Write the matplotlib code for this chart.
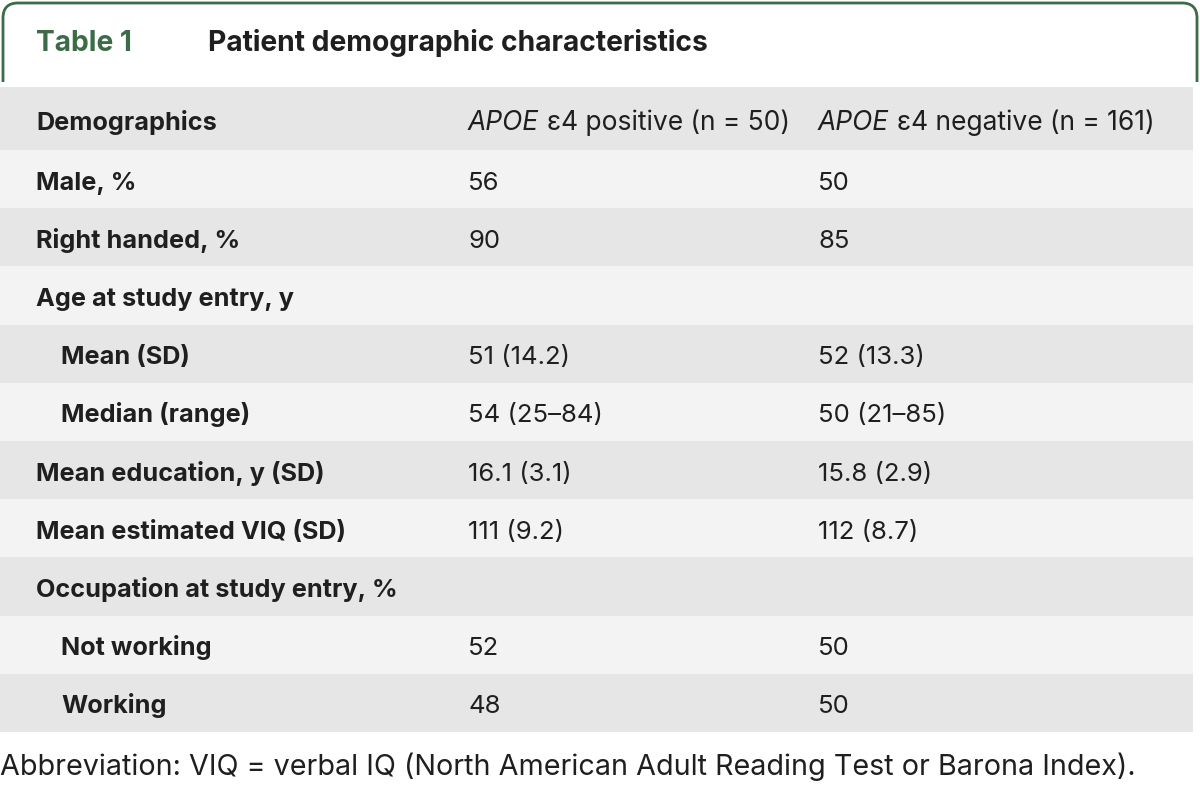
import matplotlib

matplotlib.use("Agg")
import matplotlib.pyplot as plt
from matplotlib.path import Path
from matplotlib.patches import PathPatch

# table content
title_tag = "Table 1"
title_text = "Patient demographic characteristics"
col_headers = ["Demographics", "positive (n = 50)", "negative (n = 161)"]
row_labels = [
    "Male, %",
    "Right handed, %",
    "Age at study entry, y",
    "Mean (SD)",
    "Median (range)",
    "Mean education, y (SD)",
    "Mean estimated VIQ (SD)",
    "Occupation at study entry, %",
    "Not working",
    "Working",
]
row_indent = [0, 0, 0, 1, 1, 0, 0, 0, 1, 1]
apoe_pos = ["56", "90", "", "51 (14.2)", "54 (25–84)", "16.1 (3.1)", "111 (9.2)", "", "52", "48"]
apoe_neg = ["50", "85", "", "52 (13.3)", "50 (21–85)", "15.8 (2.9)", "112 (8.7)", "", "50", "50"]
footnote = "Abbreviation: VIQ = verbal IQ (North American Adult Reading Test or Barona Index)."

W, H = 1200, 789
GREEN = "#3d6b47"
DARK = "#e6e6e6"
LIGHT = "#f3f3f3"
INK = "#1f1f1f"
FONT = "Inter"

fig = plt.figure(figsize=(W / 100, H / 100), dpi=100)
ax = fig.add_axes([0, 0, 1, 1])
ax.set_xlim(0, W)
ax.set_ylim(H, 0)
ax.axis("off")

# green frame around the title, rounded top corners
r = 15
verts = [(3, 82), (3, 3 + r), (3, 3), (3 + r, 3), (1197 - r, 3), (1197, 3), (1197, 3 + r), (1197, 82)]
codes = [Path.MOVETO, Path.LINETO, Path.CURVE3, Path.CURVE3, Path.LINETO, Path.CURVE3, Path.CURVE3, Path.LINETO]
ax.add_patch(PathPatch(Path(verts, codes), fill=False, edgecolor=GREEN, linewidth=2.0))

ax.text(36, 51, title_tag, color=GREEN, fontsize=20.3, fontweight="bold", family=FONT, va="baseline")
ax.text(208, 51, title_text, color=INK, fontsize=20.3, fontweight="bold", family=FONT, va="baseline")

# row bands
header_top, header_bot = 87, 150
row_h = 58.2
table_right = 1193
ax.fill_between([0, table_right], header_top, header_bot, color=DARK, linewidth=0)
for i in range(len(row_labels)):
    y0 = header_bot + i * row_h
    ax.fill_between([0, table_right], y0, y0 + row_h, color=LIGHT if i % 2 == 0 else DARK, linewidth=0)

col_x = [36, 468, 818]
fs_label = 18.2
fs_value = 18.5
fs_head = 19
hy = 129.5
ax.text(col_x[0], hy, col_headers[0], fontsize=fs_label, fontweight="bold", color=INK, family=FONT, va="baseline")

fig.canvas.draw()
renderer = fig.canvas.get_renderer()
inv = ax.transData.inverted()
for x, rest in zip(col_x[1:], col_headers[1:]):
    t = ax.text(x, hy, "APOE", fontsize=fs_head, fontstyle="italic", color=INK, family=FONT, va="baseline")
    bb = t.get_window_extent(renderer)
    x_end = inv.transform((bb.x1, 0))[0]
    ax.text(x_end + 8, hy, "ε4 " + rest, fontsize=fs_head, color=INK, family=FONT, va="baseline")

for i, label in enumerate(row_labels):
    yb = header_bot + i * row_h + 39.5
    ax.text(col_x[0] + 25 * row_indent[i], yb, label, fontsize=fs_label, fontweight="bold",
            color=INK, family=FONT, va="baseline")
    ax.text(col_x[1], yb, apoe_pos[i], fontsize=fs_value, color=INK, family=FONT, va="baseline")
    ax.text(col_x[2], yb, apoe_neg[i], fontsize=fs_value, color=INK, family=FONT, va="baseline")

ax.text(0, 775, footnote, fontsize=20.7, color=INK, family=FONT, va="baseline")

fig.savefig("out.png", dpi=100)
